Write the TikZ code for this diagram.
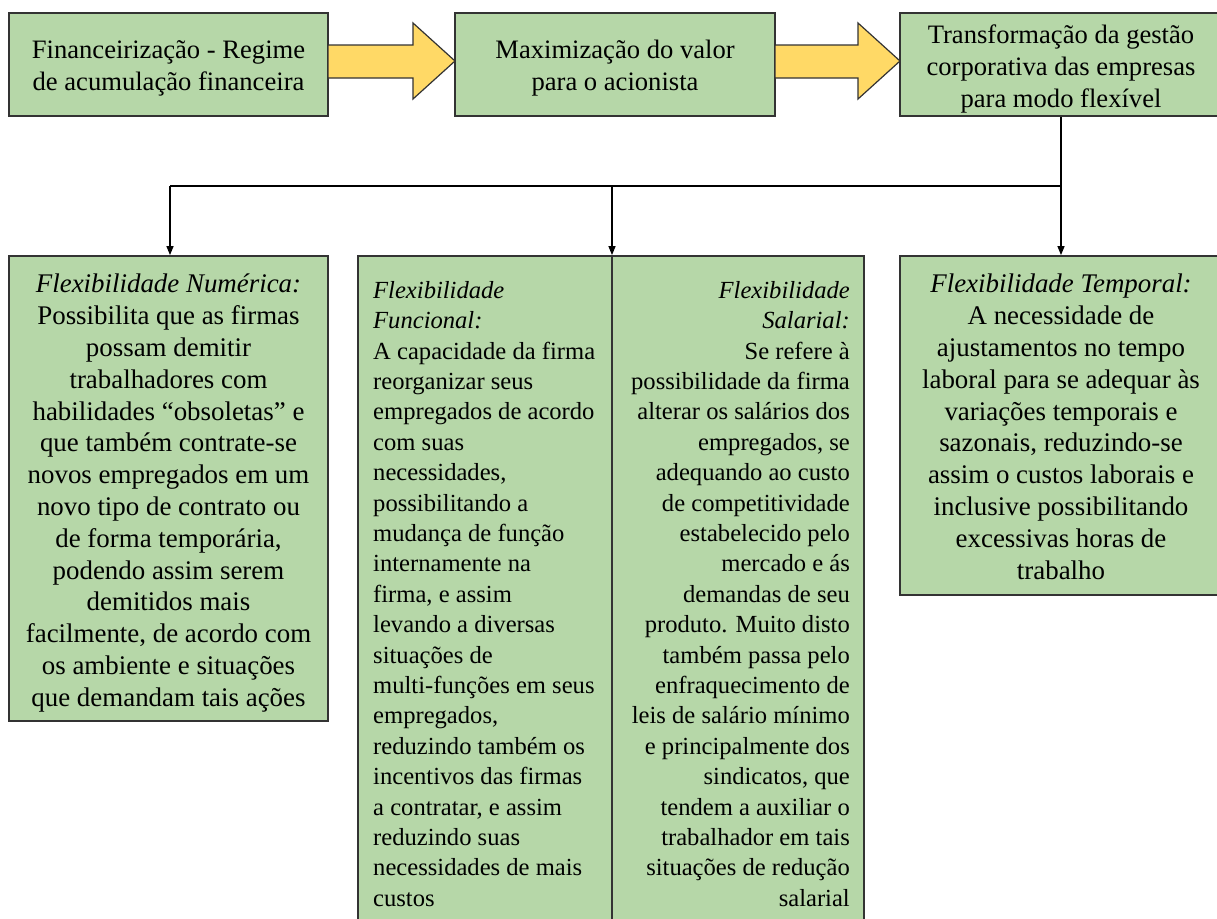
\documentclass[tikz,border=0pt]{standalone}
\usepackage{fontspec}
\setmainfont{Liberation Serif}
\usetikzlibrary{arrows.meta,calc}
\definecolor{boxgreen}{HTML}{B6D7A8}
\definecolor{arrowyellow}{HTML}{FFD966}
\definecolor{edgegray}{HTML}{333333}
\tikzset{
  greenbox/.style={draw=edgegray, line width=1.8pt, fill=boxgreen, inner sep=0pt},
  toptext/.style={align=center, inner sep=0pt, font=\fontsize{26.6}{32}\selectfont},
  bigtext/.style={align=center, inner sep=0pt, font=\fontsize{26.9}{31.8}\selectfont},
  midtext/.style={inner sep=0pt, font=\fontsize{24.6}{30.4}\selectfont},
  yarrow/.style={draw=edgegray, line width=1.2pt, fill=arrowyellow, line join=miter},
  link/.style={draw=black, line width=1.3pt},
  linkarrow/.style={link, -{Triangle[length=9pt,width=7pt]}}
}
\begin{document}
\begin{tikzpicture}[x=1pt,y=-1pt]
\useasboundingbox (0,0) rectangle (1217,918);
\clip (0,0) rectangle (1217,918);
\fill[white] (0,0) rectangle (1217,918);

% top row
\node[greenbox, minimum width=319pt, minimum height=103pt] (b1) at (168.5,64.5) {};
\node[greenbox, minimum width=320pt, minimum height=103pt] (b2) at (615,64.5) {};
\node[greenbox, minimum width=322pt, minimum height=103pt] (b3) at (1061,64.5) {};
\node[toptext] (t1) at ($(b1.center)+(0,4)$) {Financeirização - Regime\\de acumulação financeira};
\node[toptext] (t2) at ($(b2.center)+(0,4)$) {Maximização do valor\\para o acionista};
\node[toptext] (t3) at ($(b3.center)+(0,4.5)$) {Transformação da gestão\\corporativa das empresas\\para modo flexível};

% block arrows
\draw[yarrow] (328,45) -- (413,45) -- (413,23) -- (455,61) -- (413,99) -- (413,78) -- (328,78) -- cycle;
\draw[yarrow] (775,45) -- (858,45) -- (858,23) -- (900,61) -- (858,99) -- (858,78) -- (775,78) -- cycle;

% bottom boxes
\node[greenbox, minimum width=319pt, minimum height=465pt] (n4) at (168.5,488.5) {};
\node[greenbox, minimum width=254pt, minimum height=684pt] (fun) at (485,598) {};
\node[greenbox, minimum width=252pt, minimum height=684pt] (sal) at (738,598) {};
\node[greenbox, minimum width=322pt, minimum height=339pt] (b6) at (1061,425.5) {};

\node[bigtext, anchor=north] (t4) at (168.5,274)
  {\textit{Flexibilidade Numérica:}\\Possibilita que as firmas\\possam demitir\\trabalhadores com\\habilidades “obsoletas” e\\que também contrate-se\\novos empregados em um\\novo tipo de contrato ou\\de forma temporária,\\podendo assim serem\\demitidos mais\\facilmente, de acordo com\\os ambiente e situações\\que demandam tais ações};

\node[midtext, align=left, anchor=north west] (tfun) at (373,281)
  {\textit{Flexibilidade}\\\textit{Funcional:}\\A capacidade da firma\\reorganizar seus\\empregados de acordo\\com suas\\necessidades,\\possibilitando a\\mudança de função\\internamente na\\firma, e assim\\levando a diversas\\situações de\\multi-funções em seus\\empregados,\\reduzindo também os\\incentivos das firmas\\a contratar, e assim\\reduzindo suas\\necessidades de mais\\custos};

\node[midtext, align=right, anchor=north east] (tsal) at (850,281)
  {\textit{Flexibilidade}\\\textit{Salarial:}\\Se refere à\\possibilidade da firma\\alterar os salários dos\\empregados, se\\adequando ao custo\\de competitividade\\estabelecido pelo\\mercado e ás\\demandas de seu\\produto. Muito disto\\também passa pelo\\enfraquecimento de\\leis de salário mínimo\\e principalmente dos\\sindicatos, que\\tendem a auxiliar o\\trabalhador em tais\\situações de redução\\salarial};

\node[bigtext, anchor=north] (t6) at (1061,274)
  {\textit{Flexibilidade Temporal:}\\A necessidade de\\ajustamentos no tempo\\laboral para se adequar às\\variações temporais e\\sazonais, reduzindo-se\\assim o custos laborais e\\inclusive possibilitando\\excessivas horas de\\trabalho};

% connectors
\coordinate (hub) at (1061,186);
\coordinate (hl) at (170,186);
\coordinate (hm) at (612,186);
\draw[link] (b3.south) -- (hub) -- (hl);
\draw[linkarrow] (hl) -- (hl |- n4.north);
\draw[linkarrow] (hm) -- (hm |- fun.north);
\draw[linkarrow] (hub) -- (b6.north);
\end{tikzpicture}
\end{document}
